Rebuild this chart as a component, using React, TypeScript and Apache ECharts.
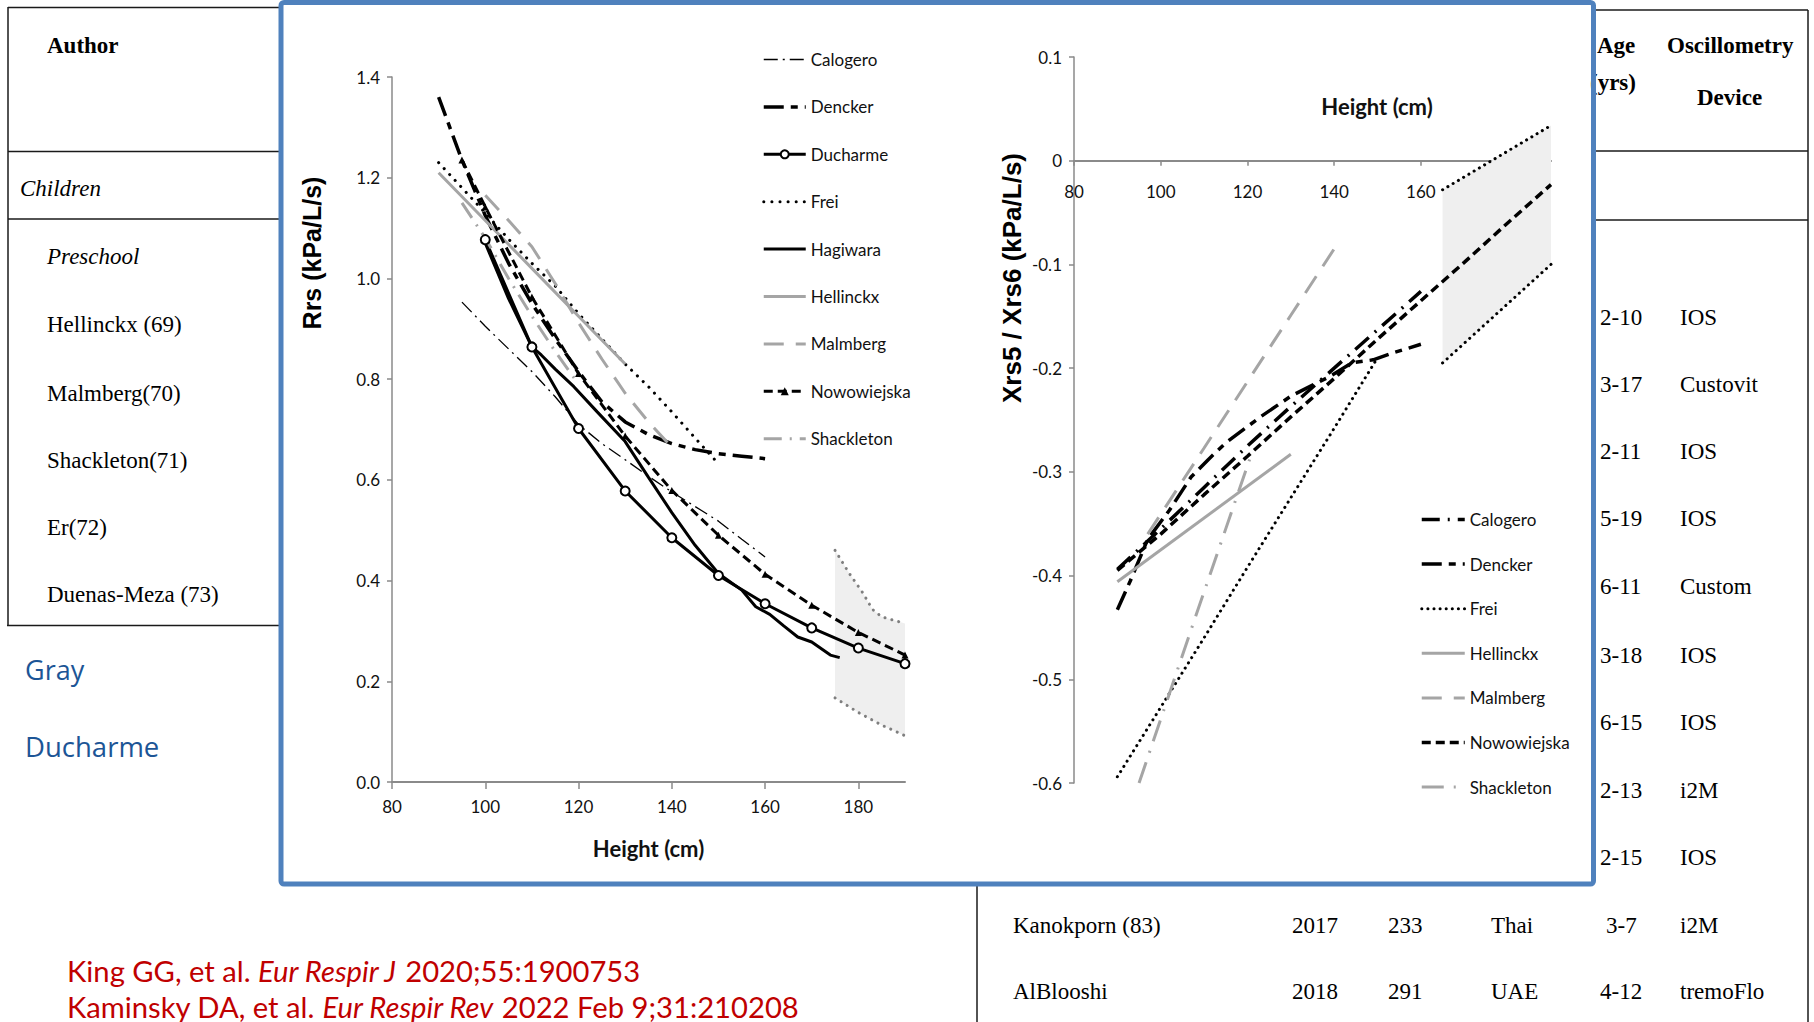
import React, { useEffect, useRef } from "react";
import * as echarts from "echarts";

// ---------- DATA: Rrs (left chart) ----------
const rrsCalogero = [[95,0.953],[100,0.905],[105,0.86],[110,0.815],[115,0.765],[120,0.71],[125,0.672],[130,0.64],[135,0.607],[140,0.576],[145,0.547],[150,0.518],[155,0.482],[160,0.447]];
const rrsDencker = [[90,1.36],[95,1.235],[100,1.125],[105,1.03],[110,0.95],[115,0.88],[120,0.815],[125,0.755],[130,0.715],[135,0.69],[140,0.672],[145,0.66],[150,0.652],[155,0.647],[160,0.642]];
const rrsDucharme = [[100,1.077],[110,0.864],[120,0.702],[130,0.578],[140,0.485],[150,0.41],[160,0.354],[170,0.306],[180,0.266],[190,0.235]];
const rrsFrei = [[90,1.23],[95,1.18],[100,1.13],[105,1.078],[110,1.03],[115,0.985],[120,0.93],[125,0.88],[130,0.83],[135,0.785],[140,0.735],[145,0.683],[150,0.632]];
const rrsHagiwara = [[100,1.07],[105,0.96],[110,0.864],[112,0.848],[115,0.82],[119,0.785],[124,0.735],[130,0.676],[135,0.605],[140,0.535],[145,0.47],[150,0.414],[155,0.381],[158,0.348],[161,0.333],[164,0.31],[167,0.288],[170,0.278],[174,0.252],[176,0.247]];
const rrsHellinckx = [[90,1.21],[100,1.115],[110,1.02],[120,0.925],[130,0.83]];
const rrsMalmberg = [[100,1.165],[105,1.115],[110,1.063],[115,0.99],[120,0.912],[125,0.84],[130,0.772],[135,0.715],[140,0.665]];
const rrsNowowiejska = [[95,1.235],[100,1.142],[110,0.963],[120,0.811],[130,0.687],[140,0.579],[150,0.49],[160,0.4125],[170,0.351],[180,0.297],[190,0.252]];
const rrsShackleton = [[95,1.15],[100,1.08],[105,1.0],[110,0.925],[115,0.855],[120,0.79]];
const rrsBandUpper = [[175,0.46],[178,0.415],[181,0.375],[183,0.343],[185,0.328],[188,0.32],[190,0.315]];
const rrsBandLower = [[175,0.167],[180,0.138],[185,0.113],[190,0.092]];

// ---------- DATA: Xrs (right chart) ----------
const xrsCalogero = [[90,-0.394],[100,-0.355],[110,-0.315],[120,-0.275],[130,-0.237],[140,-0.2],[150,-0.163],[160,-0.126]];
const xrsDencker = [[90,-0.433],[93,-0.405],[97,-0.365],[102,-0.337],[107,-0.305],[111,-0.288],[115,-0.272],[123,-0.247],[130,-0.227],[139,-0.208],[144,-0.195],[149,-0.192],[153,-0.186],[160,-0.177]];
const xrsFrei = [[90,-0.594],[100,-0.527],[110,-0.46],[120,-0.392],[130,-0.325],[140,-0.258],[150,-0.19]];
const xrsHellinckx = [[90,-0.406],[130,-0.283]];
const xrsMalmberg = [[97,-0.36],[110,-0.277],[120,-0.213],[130,-0.149],[140,-0.085]];
const xrsNowowiejska = [[90,-0.395],[100,-0.36],[110,-0.322],[120,-0.285],[130,-0.247],[140,-0.21],[150,-0.172],[160,-0.135],[170,-0.098],[180,-0.06],[190,-0.023]];
const xrsShackleton = [[95,-0.6],[108,-0.44],[120.5,-0.288]];
const xrsBandUpper = [[165,-0.028],[190,0.034]];
const xrsBandLower = [[165,-0.195],[190,-0.1]];

// ---------- TEXT CONTENT ----------
const leftAuthors = ["Hellinckx (69)", "Malmberg(70)", "Shackleton(71)", "Er(72)", "Duenas-Meza (73)"];
const rightAges = ["2-10", "3-17", "2-11", "5-19", "6-11", "3-18", "6-15", "2-13", "2-15"];
const rightDevices = ["IOS", "Custovit", "IOS", "IOS", "Custom", "IOS", "IOS", "i2M", "IOS"];
const bottomRows = [
  ["Kanokporn (83)", "2017", "233", "Thai", "3-7", "i2M"],
  ["AlBlooshi", "2018", "291", "UAE", "4-12", "tremoFlo"],
];

const BLACK = "#000000";
const GRAY = "#a5a5a5";
const SANS = "Lato, 'Noto Sans', sans-serif";
const SERIF = "'Liberation Serif', 'Times New Roman', serif";

function lineSeries(name: string, data: number[][], axis: number, color: string, width: number, dash: any, extra: any = {}) {
  return {
    type: "line",
    name,
    xAxisIndex: axis,
    yAxisIndex: axis,
    data,
    symbol: "none",
    showSymbol: false,
    z: 3,
    silent: true,
    lineStyle: { color, width, type: dash, cap: extra.cap || "butt" },
    itemStyle: { color },
    ...extra.opts,
  };
}

function bandSeries(name: string, axis: number, upper: number[][], lower: number[][]) {
  return {
    type: "custom",
    name,
    xAxisIndex: axis,
    yAxisIndex: axis,
    z: 1,
    silent: true,
    data: [upper[0]],
    renderItem: (_p: any, api: any) => {
      const pts = [...upper.map((p) => api.coord(p)), ...lower.slice().reverse().map((p) => api.coord(p))];
      return { type: "polygon", shape: { points: pts }, style: { fill: "#efefef" } };
    },
  };
}

type Def = { name: string; data: number[][]; color: string; width: number; dash: any; cap?: string; marker?: string; size?: number };

const leftDefs: Def[] = [
  { name: "Calogero", data: rrsCalogero, color: BLACK, width: 1.3, dash: [14, 5, 2, 5] },
  { name: "Dencker", data: rrsDencker, color: BLACK, width: 3.5, dash: [20, 7, 7, 7] },
  { name: "Ducharme", data: rrsDucharme, color: BLACK, width: 3, dash: "solid", marker: "emptyCircle", size: 9 },
  { name: "Frei", data: rrsFrei, color: BLACK, width: 3, dash: [0.1, 8], cap: "round" },
  { name: "Hagiwara", data: rrsHagiwara, color: BLACK, width: 3, dash: "solid" },
  { name: "Hellinckx", data: rrsHellinckx, color: GRAY, width: 3, dash: "solid" },
  { name: "Malmberg", data: rrsMalmberg, color: GRAY, width: 3, dash: [20, 12] },
  { name: "Nowowiejska", data: rrsNowowiejska, color: BLACK, width: 3, dash: [9, 5], marker: "triangle", size: 7 },
  { name: "Shackleton", data: rrsShackleton, color: GRAY, width: 3, dash: [18, 8, 2, 8] },
];

const RS = " (Xrs)";
const rightDefs: Def[] = [
  { name: "Calogero" + RS, data: xrsCalogero, color: BLACK, width: 3.5, dash: [18, 8, 2, 8] },
  { name: "Dencker" + RS, data: xrsDencker, color: BLACK, width: 3.5, dash: [20, 7, 7, 7] },
  { name: "Frei" + RS, data: xrsFrei, color: BLACK, width: 3, dash: [0.1, 6], cap: "round" },
  { name: "Hellinckx" + RS, data: xrsHellinckx, color: GRAY, width: 3, dash: "solid" },
  { name: "Malmberg" + RS, data: xrsMalmberg, color: GRAY, width: 3, dash: [20, 12] },
  { name: "Nowowiejska" + RS, data: xrsNowowiejska, color: BLACK, width: 3.5, dash: [9, 5] },
  { name: "Shackleton" + RS, data: xrsShackleton, color: GRAY, width: 3, dash: [22, 10, 2, 10] },
];

function buildSeries(defs: Def[], axis: number) {
  return defs.map((d) =>
    lineSeries(d.name, d.data, axis, d.color, d.width, d.dash, {
      cap: d.cap,
      opts: d.marker
        ? {
            symbol: d.marker,
            showSymbol: true,
            symbolSize: d.size,
            itemStyle: { color: d.color, borderColor: d.color, borderWidth: d.marker === "emptyCircle" ? 2.5 : 0 },
          }
        : {},
    })
  );
}

function legendData(defs: Def[]) {
  return defs.map((d) => ({
    name: d.name,
    lineStyle: { width: d.width },
    itemStyle: d.marker ? {} : { opacity: 0 },
  }));
}

function txt(text: string, x: number, y: number, o: any = {}) {
  return {
    type: "text",
    x,
    y,
    z: o.z ?? 0,
    rotation: o.rotation || 0,
    style: {
      text,
      fill: o.color || "#000",
      fontSize: o.size || 23,
      fontFamily: o.family || SERIF,
      fontWeight: o.bold ? "bold" : "normal",
      fontStyle: o.italic ? "italic" : "normal",
      textAlign: o.align || "left",
      align: o.align || "left",
      textVerticalAlign: "middle",
      verticalAlign: "middle",
    },
  };
}

function hline(x1: number, x2: number, y: number) {
  return { type: "line", z: -1, shape: { x1, y1: y, x2, y2: y }, style: { stroke: "#1a1a1a", lineWidth: 1.5 } };
}
function vline(x: number, y1: number, y2: number) {
  return { type: "line", z: -1, shape: { x1: x, y1, x2: x, y2 }, style: { stroke: "#1a1a1a", lineWidth: 1.5 } };
}

function buildGraphics() {
  const els: any[] = [];
  // left table
  els.push(vline(8, 7, 625));
  els.push(hline(8, 281, 7.5));
  els.push(hline(8, 281, 151.5));
  els.push(hline(8, 281, 219));
  els.push(hline(7, 281, 625.5));
  els.push(txt("Author", 47, 45, { bold: true, z: -1 }));
  els.push(txt("Children", 20, 188, { italic: true, z: -1 }));
  els.push(txt("Preschool", 47, 256, { italic: true, z: -1 }));
  const leftYs = [324, 393, 460, 527, 594];
  leftAuthors.forEach((a, i) => els.push(txt(a, 47, leftYs[i], { z: -1 })));
  els.push(txt("Gray", 25, 669, { family: "'Open Sans', sans-serif", size: 27, color: "#1c5596" }));
  els.push(txt("Ducharme", 25, 746, { family: "'Open Sans', sans-serif", size: 27.5, color: "#1c5596" }));
  // right table
  els.push(hline(1595, 1808, 10));
  els.push(hline(1595, 1808, 151));
  els.push(hline(1595, 1808, 220));
  els.push(vline(1808, 10, 1022));
  els.push(txt("Age", 1597, 45, { bold: true, z: -1 }));
  els.push(txt("(yrs)", 1590, 82, { bold: true, z: -1 }));
  els.push(txt("Oscillometry", 1667, 45, { bold: true, z: -1 }));
  els.push(txt("Device", 1697, 97, { bold: true, z: -1 }));
  const rightYs = [317.5, 384.6, 451, 518, 586.7, 655, 722, 790, 857.2];
  rightAges.forEach((a, i) => {
    els.push(txt(a, 1600, rightYs[i], { z: -1 }));
    els.push(txt(rightDevices[i], 1680, rightYs[i], { z: -1 }));
  });
  // bottom rows
  els.push(vline(977, 886, 1022));
  const bys = [925, 991];
  const bxs = [1013, 1292, 1388, 1491, 0, 1680];
  bottomRows.forEach((r, i) => {
    r.forEach((t, j) => {
      const x = j === 4 ? (t.length === 3 ? 1606 : 1600) : bxs[j];
      els.push(txt(t, x, bys[i], { z: -1 }));
    });
  });
  // citations
  const red = "#c00000";
  const rich = (size: number) => ({
    a: { fontSize: size, fontFamily: SANS, fill: red, fontStyle: "normal" },
    b: { fontSize: size, fontFamily: SANS, fill: red, fontStyle: "italic" },
  });
  els.push({
    type: "text", x: 67, y: 970,
    style: { text: "{a|King GG, et al. }{b|Eur Respir J}{a| 2020;55:1900753}", rich: rich(29.2), fontSize: 29.2, fontFamily: SANS, fill: red, verticalAlign: "middle", textVerticalAlign: "middle" },
  });
  els.push({
    type: "text", x: 67, y: 1006,
    style: { text: "{a|Kaminsky DA, et al. }{b|Eur Respir Rev}{a| 2022 Feb 9;31:210208}", rich: rich(29.2), fontSize: 29.2, fontFamily: SANS, fill: red, verticalAlign: "middle", textVerticalAlign: "middle" },
  });
  // blue frame
  els.push({
    type: "rect", z: 0,
    shape: { x: 281, y: 2.5, width: 1312.5, height: 881.5, r: 3 },
    style: { fill: "none", stroke: "#4f81bd", lineWidth: 5 },
  });
  // axis titles
  els.push(txt("Rrs (kPa/L/s)", 312, 253, { family: "'Liberation Sans', Arial, sans-serif", bold: true, size: 25, rotation: Math.PI / 2, align: "center" }));
  els.push(txt("Xrs5 / Xrs6 (kPa/L/s)", 1012, 278, { family: "'Liberation Sans', Arial, sans-serif", bold: true, size: 26, rotation: Math.PI / 2, align: "center" }));
  els.push(txt("Height (cm)", 1377, 106, { family: SANS, bold: true, size: 22, align: "center", color: "#111" }));
  return els;
}

const axisGray = "#8a8a8a";
const labelStyle = { fontSize: 17, color: "#111", fontFamily: SANS };

const option: any = {
  animation: false,
  backgroundColor: "#ffffff",
  textStyle: { fontFamily: SANS },
  grid: [
    { left: 392, top: 77, width: 513, height: 705 },
    { left: 1074, top: 57, width: 477, height: 726 },
  ],
  xAxis: [
    {
      gridIndex: 0, type: "value", min: 80, max: 190, interval: 20,
      axisLine: { show: true, lineStyle: { color: axisGray, width: 2 } },
      axisTick: { show: true, length: 7, lineStyle: { color: axisGray, width: 1.5 } },
      axisLabel: { ...labelStyle, margin: 16, showMaxLabel: false },
      splitLine: { show: false },
      name: "Height (cm)", nameLocation: "middle", nameGap: 55,
      nameTextStyle: { fontSize: 22, fontWeight: "bold", color: "#111", fontFamily: SANS },
    },
    {
      // axis drawn across the plot at the y = 0 level (0.1 of the 0.7 range below the top)
      gridIndex: 1, type: "value", min: 80, max: 190, interval: 20,
      position: "top", offset: -103.7,
      axisLine: { show: true, onZero: false, lineStyle: { color: axisGray, width: 2 } },
      axisTick: { show: true, inside: true, length: 5, lineStyle: { color: axisGray, width: 1.5 } },
      axisLabel: { ...labelStyle, inside: true, margin: 22, showMaxLabel: false },
      splitLine: { show: false },
    },
  ],
  yAxis: [
    {
      gridIndex: 0, type: "value", min: 0, max: 1.4, interval: 0.2,
      axisLine: { show: true, lineStyle: { color: axisGray, width: 1.5 } },
      axisTick: { show: true, length: 5, lineStyle: { color: axisGray, width: 1.5 } },
      axisLabel: { ...labelStyle, margin: 12, formatter: (v: number) => v.toFixed(1) },
      splitLine: { show: false },
    },
    {
      gridIndex: 1, type: "value", min: -0.6, max: 0.1, interval: 0.1,
      axisLine: { show: true, lineStyle: { color: axisGray, width: 1.5 } },
      axisTick: { show: true, length: 5, lineStyle: { color: axisGray, width: 1.5 } },
      axisLabel: { ...labelStyle, margin: 12, formatter: (v: number) => (Math.abs(v) < 1e-9 ? "0" : v.toFixed(1)) },
      splitLine: { show: false },
    },
  ],
  legend: [
    {
      orient: "vertical", left: 762, top: 51, padding: 0, itemWidth: 42, itemHeight: 10, itemGap: 30.4,
      selectedMode: false, textStyle: { fontSize: 17, color: "#111", fontFamily: SANS },
      data: legendData(leftDefs),
    },
    {
      orient: "vertical", left: 1420, top: 511, padding: 0, itemWidth: 43, itemHeight: 10, itemGap: 27.6,
      selectedMode: false, textStyle: { fontSize: 17, color: "#111", fontFamily: SANS },
      formatter: (n: string) => n.replace(RS, ""),
      data: legendData(rightDefs),
    },
  ],
  graphic: { elements: buildGraphics() },
  series: [
    bandSeries("bandL", 0, rrsBandUpper, rrsBandLower),
    lineSeries("bandL-upper", rrsBandUpper, 0, "#7f7f7f", 3, [0.1, 7], { cap: "round" }),
    lineSeries("bandL-lower", rrsBandLower, 0, "#7f7f7f", 3, [0.1, 7], { cap: "round" }),
    ...buildSeries(leftDefs, 0),
    bandSeries("bandR", 1, xrsBandUpper, xrsBandLower),
    lineSeries("bandR-upper", xrsBandUpper, 1, BLACK, 3, [0.1, 6], { cap: "round" }),
    lineSeries("bandR-lower", xrsBandLower, 1, BLACK, 3, [0.1, 6], { cap: "round" }),
    ...buildSeries(rightDefs, 1),
  ],
};

export default function App() {
  const ref = useRef<HTMLDivElement>(null);
  useEffect(() => {
    if (!ref.current) return;
    const chart = echarts.init(ref.current, null, { renderer: "svg" });
    chart.setOption(option);
    return () => chart.dispose();
  }, []);
  return (
    <div
      ref={ref}
      style={{ position: "absolute", left: 0, top: 0, width: 1814, height: 1022, background: "#fff" }}
    />
  );
}
